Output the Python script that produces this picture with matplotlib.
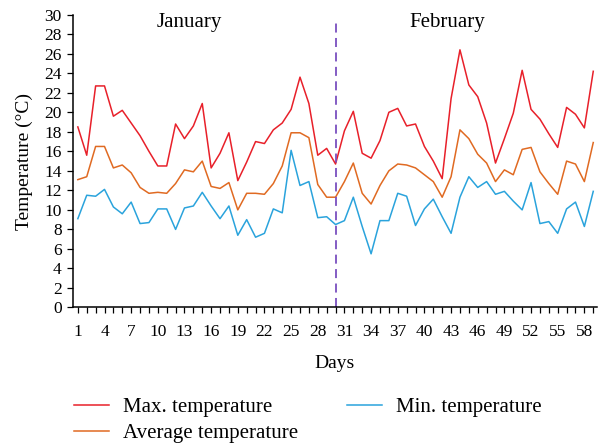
import matplotlib
matplotlib.use("Agg")
import matplotlib.pyplot as plt
import numpy as np

plt.rcParams['font.family'] = ['Liberation Serif', 'DejaVu Serif']

# daily temperatures, January 1 -> February 28
days = np.arange(1, 60)
t_max = [18.5, 15.6, 22.7, 22.7, 19.6, 20.2, 18.9, 17.6, 16.0, 14.5,
         14.5, 18.8, 17.3, 18.6, 20.9, 14.3, 15.8, 17.9, 13.0, 14.9,
         17.0, 16.8, 18.2, 18.9, 20.3, 23.6, 20.9, 15.6, 16.3, 14.7,
         18.1, 20.1, 15.8, 15.3, 17.1, 20.0, 20.4, 18.6, 18.8, 16.5,
         15.0, 13.2, 21.4, 26.4, 22.8, 21.6, 18.9, 14.8, 17.3, 19.9,
         24.3, 20.3, 19.3, 17.8, 16.4, 20.5, 19.8, 18.4, 24.2]
t_avg = [13.1, 13.4, 16.5, 16.5, 14.3, 14.6, 13.8, 12.3, 11.7, 11.8,
         11.7, 12.7, 14.1, 13.9, 15.0, 12.4, 12.2, 12.8, 10.0, 11.7,
         11.7, 11.6, 12.7, 14.5, 17.9, 17.9, 17.4, 12.6, 11.3, 11.3,
         12.9, 14.8, 11.7, 10.6, 12.5, 14.0, 14.7, 14.6, 14.3, 13.6,
         12.9, 11.3, 13.4, 18.2, 17.3, 15.7, 14.8, 12.9, 14.1, 13.6,
         16.2, 16.4, 13.9, 12.7, 11.6, 15.0, 14.7, 12.9, 16.9]
t_min = [9.1, 11.5, 11.4, 12.1, 10.3, 9.6, 10.8, 8.6, 8.7, 10.1,
         10.1, 8.0, 10.2, 10.4, 11.8, 10.4, 9.1, 10.4, 7.4, 9.0,
         7.2, 7.6, 10.1, 9.7, 16.1, 12.5, 12.9, 9.2, 9.3, 8.5,
         8.9, 11.3, 8.3, 5.5, 8.9, 8.9, 11.7, 11.4, 8.4, 10.1,
         11.1, 9.3, 7.6, 11.3, 13.4, 12.3, 12.9, 11.6, 11.9, 10.9,
         10.0, 12.8, 8.6, 8.8, 7.6, 10.1, 10.8, 8.3, 11.9]

month_split = 30
month_names = ["January", "February"]

fig = plt.figure(figsize=(5.98, 4.45), dpi=100)
ax = fig.add_axes([0.122, 0.309, 0.876, 0.658])

l1, = ax.plot(days, t_max, color='#e8202a', lw=1.1, label='Max. temperature')
l3, = ax.plot(days, t_min, color='#2aa3dc', lw=1.1, label='Min. temperature')
l2, = ax.plot(days, t_avg, color='#e06a22', lw=1.1, label='Average temperature')

# boundary between the two months
ax.plot([month_split, month_split], [0, 29.1], color='#7a4fbf', lw=1.3,
        ls=(0, (5, 3)))

ax.text(13.5, 29.2, month_names[0], ha='center', va='center', fontsize=15)
ax.text(42.6, 29.2, month_names[1], ha='center', va='center', fontsize=15)

ax.set_xlim(0.45, 59.4)
ax.set_ylim(0, 30)
ax.set_xticks(days, minor=True)
ax.set_xticks(np.arange(1, 60, 3))
ax.set_yticks(np.arange(0, 31, 2))
ax.tick_params(axis='x', which='both', length=4, width=0.9, direction='out',
               labelsize=12.5, pad=8)
ax.tick_params(axis='y', length=4, width=0.9, direction='out', labelsize=12.5,
               pad=4)
ax.spines['top'].set_visible(False)
ax.spines['right'].set_visible(False)
ax.spines['left'].set_linewidth(1.1)
ax.spines['bottom'].set_linewidth(1.1)

ax.set_xlabel('Days', fontsize=14, labelpad=11)
ax.set_ylabel('Temperature (°C)', fontsize=14, labelpad=8)

fig.legend(handles=[l1, l2, l3], loc='upper left', bbox_to_anchor=(0.092, 0.148),
           ncol=2, frameon=False, fontsize=15, handlelength=1.68,
           handletextpad=0.67, columnspacing=2.35, labelspacing=0.3)

fig.savefig('out.png', dpi=100)
